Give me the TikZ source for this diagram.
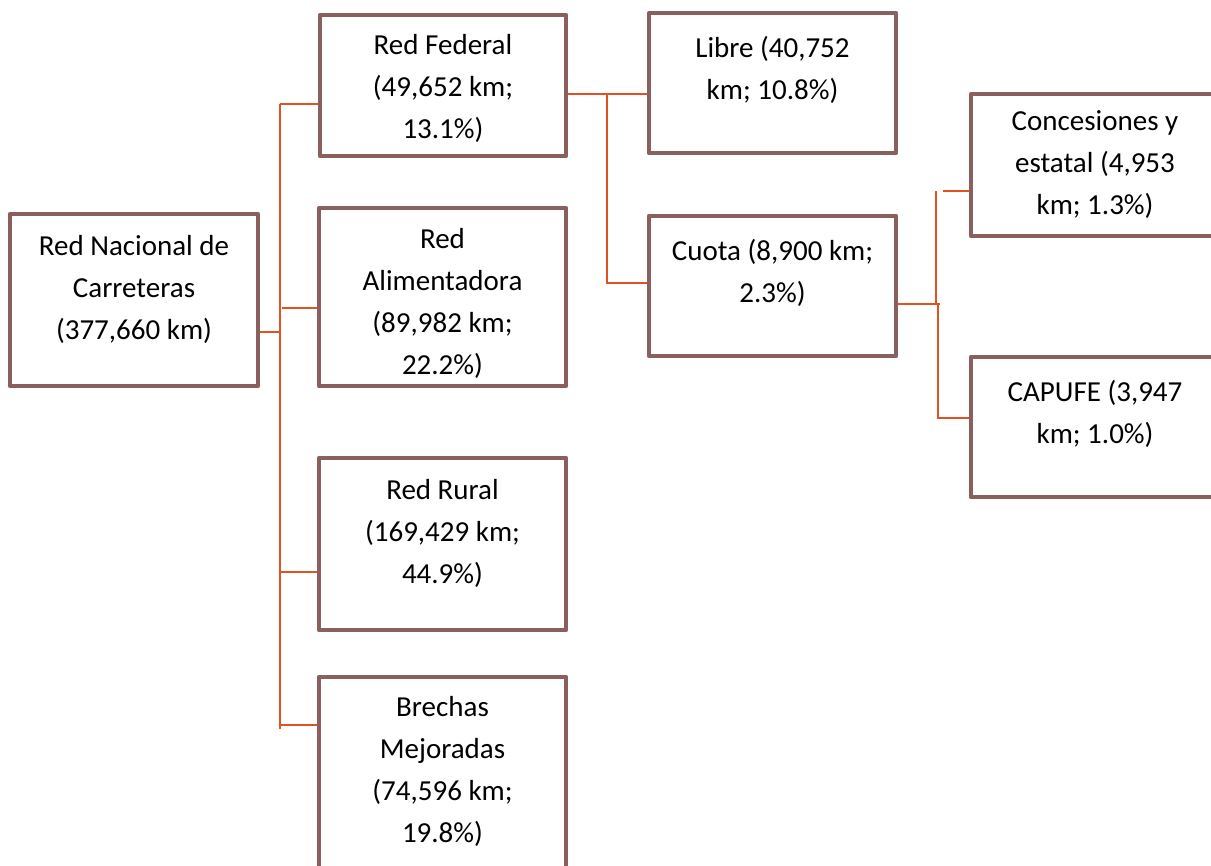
\documentclass[tikz,border=0pt]{standalone}
\usepackage{fontspec}
\setmainfont{Carlito}
\definecolor{boxc}{RGB}{138,96,94}
\definecolor{linec}{RGB}{222,83,32}
\begin{document}
\begin{tikzpicture}[x=0.75pt,y=-0.75pt,
  box/.style={draw=boxc, line width=3.5pt, line join=round, rectangle, inner sep=0pt},
  txt/.style={anchor=north, inner sep=0pt, align=center, text=black, font=\fontsize{21.75pt}{31.5pt}\selectfont},
  conn/.style={draw=linec, line width=1.5pt}]
\useasboundingbox (0,0) rectangle (1211,865);
% boxes
\node[box, minimum width=0.75pt*248, minimum height=0.75pt*172] (nac) at (134,300) {};
\node[box, minimum width=0.75pt*246, minimum height=0.75pt*141] (fed) at (443,85.5) {};
\node[box, minimum width=0.75pt*247, minimum height=0.75pt*178] (ali) at (442.5,297) {};
\node[box, minimum width=0.75pt*247, minimum height=0.75pt*172] (rur) at (442.5,544) {};
\node[box, minimum width=0.75pt*247, minimum height=0.75pt*200] (bre) at (442.5,777) {};
\node[box, minimum width=0.75pt*247, minimum height=0.75pt*140] (lib) at (772.5,83) {};
\node[box, minimum width=0.75pt*247, minimum height=0.75pt*140] (cuo) at (772.5,286) {};
\node[box, minimum width=0.75pt*248, minimum height=0.75pt*142] (con) at (1095,165) {};
\node[box, minimum width=0.75pt*248, minimum height=0.75pt*140] (cap) at (1095,427) {};
% texts
\node[txt] (tnac) at (134,225.6) {\strut Red Nacional de\\Carreteras\\(377,660 km)};
\node[txt] (tfed) at (443,25.3) {\strut Red Federal\\(49,652 km;\\13.1\%)};
\node[txt] (tali) at (442.5,218.6) {\strut Red\\Alimentadora\\(89,982 km;\\22.2\%)};
\node[txt] (trur) at (442.5,469.6) {\strut Red Rural\\(169,429 km;\\44.9\%)};
\node[txt] (tbre) at (442.5,687.3) {\strut Brechas\\Mejoradas\\(74,596 km;\\19.8\%)};
\node[txt] (tlib) at (772.5,27.6) {\strut Libre (40,752\\km; 10.8\%)};
\node[txt] (tcuo) at (772.5,230.6) {\strut Cuota (8,900 km;\\2.3\%)};
\node[txt] (tcon) at (1095,100.6) {\strut Concesiones y\\estatal (4,953\\km; 1.3\%)};
\node[txt] (tcap) at (1095,372.3) {\strut CAPUFE (3,947\\km; 1.0\%)};
% main trunk
\coordinate (tTop) at (280,104);
\coordinate (tBot) at (280,729);
\coordinate (tA) at (280,332);
\coordinate (tB) at (282,308);
\coordinate (tC) at (280,572);
\coordinate (tD) at (280,725);
\draw[conn] (tTop) -- (tBot);
\draw[conn] (nac.east |- tA) -- (tA);
\draw[conn] (tTop) -- (tTop -| fed.west);
\draw[conn] (tB) -- (tB -| ali.west);
\draw[conn] (tC) -- (tC -| rur.west);
\draw[conn] (tD) -- (tD -| bre.west);
% federal branch
\coordinate (fA) at (607,94);
\coordinate (fB) at (607,283);
\draw[conn] (fA -| fed.east) -- (fA -| lib.west);
\draw[conn] (fA) -- (fB) -- (fB -| cuo.west);
% cuota branch
\coordinate (cA) at (940,304);
\coordinate (cT) at (935.5,191);
\coordinate (cM) at (935.5,304);
\coordinate (cB) at (938,304);
\coordinate (cL) at (938,418);
\coordinate (cU) at (943,191);
\draw[conn] (cA -| cuo.east) -- (cA);
\draw[conn] (cT) -- (cM);
\draw[conn] (cB) -- (cL) -- (cL -| cap.west);
\draw[conn] (cU) -- (cU -| con.west);
\end{tikzpicture}
\end{document}
